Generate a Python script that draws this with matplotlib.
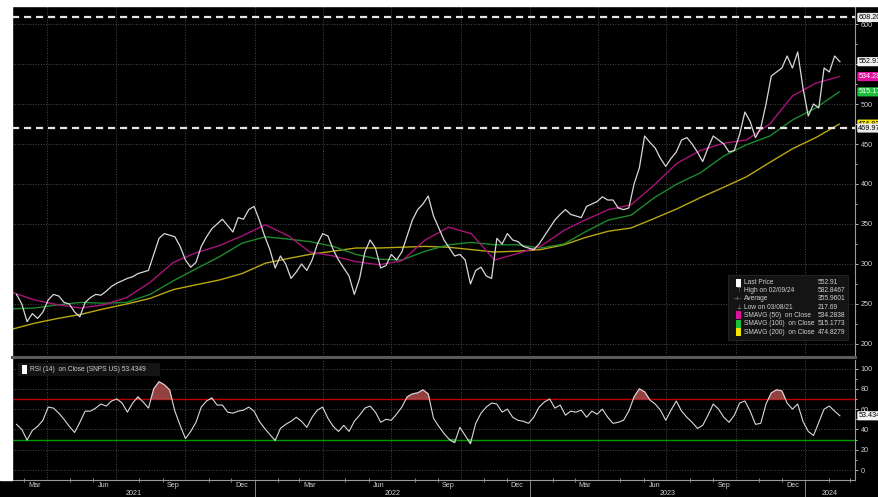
import numpy as np
import pandas as pd
import matplotlib
matplotlib.use('Agg')
import matplotlib.pyplot as plt
import matplotlib.dates as mdates
import matplotlib.transforms as mtransforms
from matplotlib.patches import Rectangle
from matplotlib.lines import Line2D

plt.rcParams['font.family'] = ['Liberation Sans', 'DejaVu Sans']

# weekly closes (SNPS US)
week_dates = pd.date_range('2021-02-19', periods=157, freq='7D')
close = [
    262, 250, 228, 238, 232, 240, 255, 262, 260, 252,
    250, 240, 234, 252, 258, 262, 261, 266, 272, 276,
    279, 282, 284, 288, 290, 292, 312, 332, 338, 336,
    334, 322, 305, 296, 302, 322, 334, 344, 350, 356,
    348, 340, 358, 356, 368, 372, 355, 335, 318, 295,
    310, 300, 282, 290, 300, 292, 305, 325, 338, 335,
    318, 305, 295, 285, 262, 282, 315, 330, 320, 295,
    298, 312, 305, 315, 335, 355, 368, 375, 385, 360,
    345, 330, 320, 310, 312, 305, 275, 292, 296, 285,
    282, 332, 325, 338, 330, 328, 322, 320, 318, 325,
    335, 345, 355, 362, 368, 362, 360, 358, 372, 375,
    378, 384, 380, 380, 370, 368, 370, 400, 420, 460,
    452, 445, 432, 422, 432, 440, 455, 458, 450, 440,
    428, 445, 460, 455, 450, 440, 442, 462, 490, 478,
    458, 470, 500, 535, 540, 545, 560, 545, 565, 520,
    485, 500, 495, 545, 540, 560, 552.91,
]
rsi = [
    45, 40, 29.5, 39, 43, 49, 62, 61, 56, 50,
    43, 37, 47, 58, 58, 61, 65, 63, 68, 70,
    66, 57, 66, 72, 67, 61, 80, 87, 84, 79,
    58, 44, 31, 38, 47, 62, 68, 71, 64, 64,
    57, 56, 58, 59, 62, 58, 48, 41, 35, 29,
    41, 45, 48, 52, 48, 42, 52, 59, 62, 51,
    43, 38, 44, 38, 48, 54, 61, 63, 57, 47,
    50, 49, 55, 62, 72, 75, 76, 79, 75, 51,
    43, 36, 30, 27, 42, 34, 26, 46, 56, 62,
    66, 65, 57, 60, 52, 49, 48, 46, 52, 62,
    67, 70, 61, 64, 54, 58, 57, 59, 52, 58,
    55, 60, 52, 46, 47, 49, 58, 72, 80, 77,
    69, 65, 59, 49, 59, 68, 58, 52, 47, 41,
    44, 54, 65, 60, 52, 47, 54, 66, 68, 58,
    45, 46, 65, 76, 79, 78, 66, 60, 65, 48,
    38, 34, 47, 60, 63, 58, 53.43,
]

# moving averages, read mid-month
sma_dates = pd.date_range('2021-02-01', periods=37, freq='MS') + pd.Timedelta(days=14)
sma50 = [264, 255, 249, 245, 249, 258, 277, 302, 314, 323,
         335, 349, 335, 315, 310, 303, 299, 304, 330, 346,
         338, 305, 313, 322, 342, 355, 368, 374, 399, 426,
         442, 451, 455, 475, 510, 526, 534.28]
sma100 = [244, 245, 249, 252, 251, 252, 262, 279, 294, 309,
          326, 334, 331, 328, 322, 312, 306, 305, 316, 324,
          327, 324, 324, 320, 325, 340, 355, 361, 383, 400,
          414, 435, 449, 460, 480, 495, 515.18]
sma200 = [219, 226, 232, 237, 244, 250, 257, 268, 274, 280,
          288, 301, 307, 312, 316, 320, 320, 321, 322, 321,
          318, 315, 316, 318, 324, 333, 341, 345, 357, 369,
          383, 396, 409, 427, 444, 458, 474.83]

high_level = 608.20
low_level = 469.97

legend_rows = [
    ('Last Price', '552.91', 'white'),
    ('High on 02/09/24', '582.8467', None),
    ('Average', '355.9601', None),
    ('Low on 03/08/21', '217.69', None),
    ('SMAVG (50)  on Close', '534.2838', '#e0119d'),
    ('SMAVG (100)  on Close', '515.1773', '#1fc13c'),
    ('SMAVG (200)  on Close', '474.8279', '#f2e600'),
]
price_ticks = [200, 250, 300, 350, 400, 450, 500, 550, 600]
price_tick_labels = ['200', '250', '300', '350', '400', '450', '500', '', '600']
month_labels = ['Mar', 'Jun', 'Sep', 'Dec']
years = [2021, 2022, 2023, 2024]

txt = '#d0d0d0'
grid_c = '#4a4a4a'
W, H = 879, 497
fs = 5.2

fig = plt.figure(figsize=(8.79, 4.97), dpi=100, facecolor='black')
fig.patches.append(Rectangle((0, 1 - 6 / H), 1, 6 / H, transform=fig.transFigure,
                             color='white', zorder=0))
fig.patches.append(Rectangle((0, 1 - 480 / H), 12 / W, 480 / H, transform=fig.transFigure,
                             color='white', zorder=0))

ax = fig.add_axes([12 / W, 1 - 355 / H, 843 / W, 349 / H], facecolor='black')
ax2 = fig.add_axes([12 / W, 1 - 480 / H, 843 / W, 120 / H], facecolor='black', sharex=ax)

# price panel
ax.plot(sma_dates, sma200, color='#b9a812', lw=1.0)
ax.plot(sma_dates, sma100, color='#1d8a2c', lw=1.0)
ax.plot(sma_dates, sma50, color='#a8137a', lw=1.0)
ax.plot(week_dates, close, color='#d8d8d8', lw=0.9)
ax.axhline(high_level, color='#e6e6e6', lw=1.6, ls=(0, (3.2, 2.2)))
ax.axhline(low_level, color='#e6e6e6', lw=1.6, ls=(0, (3.2, 2.2)))

ax.set_ylim(186.25, 622.5)
ax.set_xlim(pd.Timestamp('2021-02-13'), pd.Timestamp('2024-03-07'))
ax.yaxis.tick_right()
ax.set_yticks(price_ticks)
ax.set_yticklabels(price_tick_labels)
ax.set_yticks(np.arange(200, 601, 25), minor=True)
ax.xaxis.set_major_locator(mdates.MonthLocator(bymonth=[1, 4, 7, 10]))
ax.xaxis.set_minor_locator(mdates.MonthLocator())
ax.grid(True, which='major', color=grid_c, ls=':', lw=0.7)
ax.tick_params(axis='y', which='both', colors=txt, labelsize=fs, pad=1.5, length=2.5, width=0.6)
ax.tick_params(axis='y', which='minor', length=1.5)
ax.tick_params(axis='x', which='both', length=0, labelbottom=False)
for s in ['top', 'left', 'bottom']:
    ax.spines[s].set_visible(False)
ax.spines['right'].set_color('#9a9a9a')
ax.spines['right'].set_linewidth(0.8)

ytr = mtransforms.blended_transform_factory(ax.transAxes, ax.transData)
badges = [
    (474.83, '474.83', '#f2e600', 'black'),
    (469.97, '469.97', '#ececec', 'black'),
    (high_level, '608.20', '#ececec', 'black'),
    (552.91, '552.91', '#f4f4f4', 'black'),
    (534.28, '534.28', '#e0119d', 'white'),
    (515.17, '515.17', '#1fc13c', 'white'),
]
for yv, lab, fc, tc in badges:
    ax.text(1.004, yv, lab, transform=ytr, ha='left', va='center', fontsize=fs, color=tc,
            clip_on=False, zorder=6,
            bbox=dict(boxstyle='round,pad=0.15', fc=fc, ec='none'))

# legend box
ax.add_patch(Rectangle((0.849, 0.043), 0.143, 0.186, transform=ax.transAxes,
                       fc='#141414', ec='#262626', lw=0.6, zorder=7))
row_y = [0.2072, 0.1842, 0.1605, 0.1375, 0.1146, 0.0897, 0.0659]
symbols = {1: '\u22a4', 2: '-+-', 3: '\u22a5'}
for k, ((name, val, col), yy) in enumerate(zip(legend_rows, row_y)):
    if col is not None:
        ax.add_patch(Rectangle((0.8585, yy - 0.011), 0.0065, 0.022, transform=ax.transAxes,
                               fc=col, ec='none', zorder=8))
    else:
        ax.text(0.8617, yy, symbols[k], transform=ax.transAxes, ha='center', va='center',
                fontsize=4, color='#9a9a9a', zorder=8, family='DejaVu Sans')
    ax.text(0.8683, yy, name, transform=ax.transAxes, ha='left', va='center',
            fontsize=4.8, color=txt, zorder=8)
    ax.text(0.9561, yy, val, transform=ax.transAxes, ha='left', va='center',
            fontsize=4.8, color=txt, zorder=8)

# RSI panel
rsi_arr = np.array(rsi)
ax2.plot(week_dates, rsi_arr, color='#d8d8d8', lw=0.8, zorder=3)
ax2.fill_between(week_dates, rsi_arr, 70, where=rsi_arr > 70, interpolate=True,
                 color='#a34848', alpha=0.9, zorder=2)
ax2.fill_between(week_dates, rsi_arr, 30, where=rsi_arr < 30, interpolate=True,
                 color='#2e8b3a', alpha=0.9, zorder=2)
ax2.axhline(70, color='#c00000', lw=1.0, zorder=1)
ax2.axhline(30, color='#009a00', lw=1.0, zorder=1)
ax2.set_ylim(-9.85, 108.4)
ax2.yaxis.tick_right()
ax2.set_yticks(np.arange(0, 101, 20))
ax2.set_yticks(np.arange(0, 101, 10), minor=True)
ax2.grid(True, which='major', color=grid_c, ls=':', lw=0.7)
ax2.tick_params(axis='y', which='both', colors=txt, labelsize=fs, pad=1.5, length=2.5, width=0.6)
ax2.tick_params(axis='y', which='minor', length=1.5)
ax2.tick_params(axis='x', which='major', length=0, labelbottom=False)
ax2.tick_params(axis='x', which='minor', length=2.5, direction='inout', color='#9a9a9a', width=0.6)
for s in ['top', 'left']:
    ax2.spines[s].set_visible(False)
for s in ['right', 'bottom']:
    ax2.spines[s].set_color('#9a9a9a')
    ax2.spines[s].set_linewidth(0.8)

ax2.text(1.004, rsi[-1], '53.434', transform=mtransforms.blended_transform_factory(
    ax2.transAxes, ax2.transData), ha='left', va='center', fontsize=fs, color='black',
    clip_on=False, zorder=6, bbox=dict(boxstyle='round,pad=0.15', fc='#f4f4f4', ec='none'))

ax2.add_patch(Rectangle((0.0071, 0.867), 0.1685, 0.108, transform=ax2.transAxes,
                        fc='#141414', ec='none', zorder=7))
ax2.add_patch(Rectangle((0.0118, 0.885), 0.0065, 0.075, transform=ax2.transAxes,
                        fc='white', ec='none', zorder=8))
ax2.text(0.0214, 0.922, 'RSI (14)  on Close (SNPS US) 53.4349', transform=ax2.transAxes,
         ha='left', va='center', fontsize=4.8, color=txt, zorder=8)

# month / year labels under the RSI panel
xtr = mtransforms.blended_transform_factory(ax2.transData, ax2.transAxes)
for yr in years[:-1]:
    for mi, m in zip([3, 6, 9, 12], month_labels):
        d = pd.Timestamp(yr, mi, 15)
        ax2.text(d, -0.045, m, transform=xtr, ha='center', va='center', fontsize=fs,
                 color=txt, clip_on=False)
x0, x1 = ax.get_xlim()
edges = [x0] + [mdates.date2num(pd.Timestamp(y, 1, 1)) for y in years[1:]] + [x1]
for i, yr in enumerate(years):
    ax2.text((edges[i] + edges[i + 1]) / 2, -0.11, str(yr), transform=xtr, ha='center',
             va='center', fontsize=fs, color=txt, clip_on=False)
for e in edges[1:-1]:
    ax2.plot([e, e], [0, -0.16], transform=xtr, color='#9a9a9a', lw=0.6, clip_on=False)

fig.add_artist(Line2D([12 / W, 855 / W], [1 - 357 / H] * 2, color='#5a5a5a', lw=2.2))

fig.savefig('out.png', dpi=100, facecolor=fig.get_facecolor())
